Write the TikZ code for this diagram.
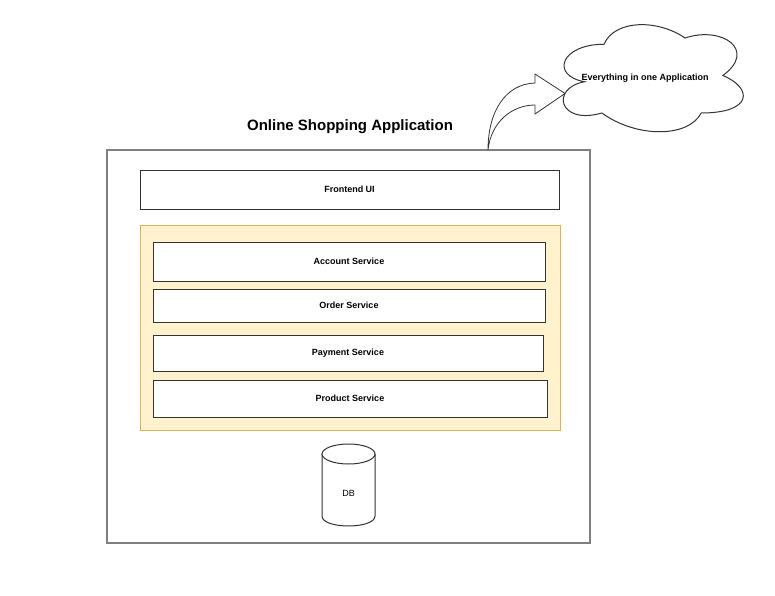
\documentclass[tikz,border=0pt]{standalone}
\usepackage{fontspec}
\setmainfont{Liberation Sans}
\def\pxu{0.75pt}
\definecolor{boxline}{HTML}{333333}
\definecolor{outerline}{HTML}{808080}
\definecolor{yfill}{HTML}{FFF2CC}
\definecolor{yline}{HTML}{D6B656}
\tikzset{
  lbl/.style={font=\fontsize{6.75}{8}\selectfont\bfseries, text=black},
  svcbox/.style={draw=boxline, line width=0.75pt, fill=white, lbl, inner sep=0pt},
}
\begin{document}
\begin{tikzpicture}[x=0.75pt,y=-0.75pt]
\useasboundingbox (0,0) rectangle (775,596);
% outer application box
\node[draw=outerline, line width=1.4pt, minimum width=483*\pxu, minimum height=393*\pxu, inner sep=0pt] (app) at (348.5,346.5) {};
\node[font=\fontsize{11.25}{13}\selectfont\bfseries] (title) at (350,127) {Online Shopping Application};
% frontend
\node[svcbox, minimum width=419*\pxu, minimum height=39*\pxu] (fe) at (349.5,189.5) {Frontend UI};
% services container
\node[draw=yline, fill=yfill, line width=0.75pt, minimum width=420*\pxu, minimum height=205*\pxu, inner sep=0pt] (svc) at (350,327.5) {};
\node[svcbox, minimum width=392*\pxu, minimum height=39*\pxu] (acc) at (349,261.5) {Account Service};
\node[svcbox, minimum width=392*\pxu, minimum height=33*\pxu] (ord) at (349,305.5) {Order Service};
\node[svcbox, minimum width=390*\pxu, minimum height=36*\pxu] (pay) at (348,353) {Payment Service};
\node[svcbox, minimum width=394*\pxu, minimum height=37*\pxu] (prd) at (350,398.5) {Product Service};
% database cylinder
\draw[draw=boxline, line width=0.75pt, fill=white]
  (322,454) -- (322,516) .. controls (322,529.3) and (375,529.3) .. (375,516) -- (375,454);
\draw[draw=boxline, line width=0.75pt, fill=white] (348.5,454) ellipse [x radius=26.5*\pxu, y radius=10*\pxu];
\node[font=\fontsize{6.75}{8}\selectfont] (db) at (348.5,493) {DB};
% curved arrow
\draw[draw=boxline, line width=0.6pt, fill=white, line join=miter]
  (488,150) .. controls (488,112) and (505,84) .. (535,83) -- (535,74) -- (565,93.5) -- (535,114) -- (535,105)
  .. controls (512,105) and (491,122) .. (488,150) -- cycle;
% cloud (x0=550, y0=13, w=216, h=125)
\begin{scope}[shift={(550,13)}]
\draw[draw=boxline, line width=0.75pt, fill=white]
  (54,31.25) .. controls (10.8,31.25) and (0,62.5) .. (34.56,68.75)
  .. controls (0,75) and (8.64,112.5) .. (51.84,100)
  .. controls (86.4,125) and (138.24,125) .. (151.2,100)
  .. controls (203.04,100) and (203.04,75) .. (172.8,62.5)
  .. controls (207.36,37.5) and (172.8,12.5) .. (135,25)
  .. controls (108,6.25) and (64.8,6.25) .. (54,31.25) -- cycle;
\end{scope}
\node[lbl] (cloudtxt) at (645,78) {Everything in one Application};
\end{tikzpicture}
\end{document}
